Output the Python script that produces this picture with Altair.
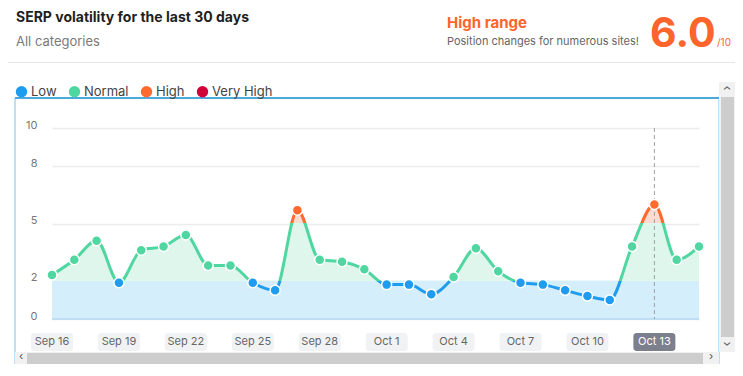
import altair as alt
import pandas as pd

# ---------------- data ----------------
dates = pd.date_range("2024-09-16", "2024-10-15").strftime("%Y-%m-%d").tolist()
values = [2.3, 3.1, 4.1, 1.9, 3.6, 3.8, 4.4, 2.8, 2.8, 1.9, 1.5, 5.7, 3.1, 3.0, 2.6,
          1.8, 1.8, 1.3, 2.2, 3.7, 2.5, 1.9, 1.8, 1.5, 1.2, 1.0, 3.8, 6.0, 3.1, 3.8]
levels = ["Low", "Normal", "High", "Very High"]
thresholds = [2, 5, 8]
y_ticks = [0, 2, 5, 8, 10]
tick_dates = dates[::3]
tick_labels = ["Sep 16", "Sep 19", "Sep 22", "Sep 25", "Sep 28",
               "Oct 1", "Oct 4", "Oct 7", "Oct 10", "Oct 13"]
highlight_label = "Oct 13"
highlight_date = "2024-10-13"
score_text = "6.0"

# ---------------- styles ----------------
FONT = "Inter"
level_colors = ["#1f9cf0", "#50d6a0", "#ff6a2f", "#d1003a"]
band_fill = "#d4eefc"
normal_fill = "#dff6ec"
high_fill = "#fcdcd0"
orange = "#ff642d"


def level_of(v):
    if v < thresholds[0]:
        return levels[0]
    if v < thresholds[1]:
        return levels[1]
    if v < thresholds[2]:
        return levels[2]
    return levels[3]


df = pd.DataFrame({"date": dates, "value": values})
df["level"] = [level_of(v) for v in values]
ticks_df = pd.DataFrame({"date": tick_dates, "label": tick_labels})
hl_df = pd.DataFrame({"date": [highlight_date]})
one = pd.DataFrame({"k": [0]})

vmax, vmin = max(values), min(values)
o5 = (vmax - thresholds[1]) / (vmax - vmin)
o2 = (vmax - thresholds[0]) / (vmax - vmin)


def hard_gradient(c_hi, c_mid, c_lo):
    return {
        "gradient": "linear", "x1": 0, "y1": 0, "x2": 0, "y2": 1,
        "stops": [
            {"offset": 0, "color": c_hi}, {"offset": o5, "color": c_hi},
            {"offset": o5, "color": c_mid}, {"offset": o2, "color": c_mid},
            {"offset": o2, "color": c_lo}, {"offset": 1, "color": c_lo},
        ],
    }


yscale = alt.Scale(domain=[0, 10], nice=False)
yaxis = alt.Axis(values=y_ticks, title=None, domain=False, ticks=False,
                 labelPadding=15, labelColor="#777", labelFontSize=11,
                 labelOffset=-3, gridColor="#ececec", gridWidth=1.5)
X = alt.X("date:T", axis=None, scale=alt.Scale(nice=False))


def txt(t, x, y, **kw):
    opts = dict(align="left", baseline="middle", font=FONT)
    opts.update(kw)
    return alt.Chart(one).mark_text(text=t, **opts).encode(
        x=alt.value(x), y=alt.value(y))


def box(x, x2, y, y2, **kw):
    return alt.Chart(one).mark_rect(**kw).encode(
        x=alt.value(x), x2=alt.value(x2), y=alt.value(y), y2=alt.value(y2))


# ---------------- decorations ----------------
header = [
    txt("SERP volatility for the last 30 days", -36, -110, fontSize=14,
        fontWeight="bold", color="#1f1f1f"),
    txt("All categories", -36, -86, fontSize=13, color="#7a7a7a"),
    txt("High range", 395, -105, fontSize=15, fontWeight="bold", color=orange),
    txt("Position changes for numerous sites!", 395, -86, fontSize=11, color="#666"),
    txt(score_text, 598, -81, fontSize=41, fontWeight="bold", color=orange,
        baseline="alphabetic"),
    txt("/10", 665, -85, fontSize=10, color=orange),
    box(-44, 683, -66, -65, fill="#e6e6e6"),
]
frame = [
    box(-37, 667, -30, 245, fillOpacity=0, stroke="#7cc2ea", strokeWidth=1),
    box(-37, 667, -31, -29, fill="#4ba9de"),
]
scrollbars = [
    box(667, 683, -46, 224, fill="#f1f1f1"),
    box(669, 682, -31, 209, fill="#cdcdcd"),
    txt("›", 675, -40, fontSize=13, color="#555", align="center", angle=270),
    txt("›", 675, 216, fontSize=13, color="#555", align="center", angle=90),
    box(-37, 667, 224, 240, fill="#f1f1f1"),
    box(-25, 651, 225, 238, fill="#cdcdcd"),
    txt("‹", -31, 229, fontSize=11, color="#555", align="center"),
    txt("›", 659, 229, fontSize=11, color="#555", align="center"),
]

# ---------------- chart layers ----------------
band = alt.Chart(df).transform_calculate(top="2", bot="0").mark_area(
    color=band_fill, opacity=1).encode(
    x=X, y=alt.Y("top:Q", scale=yscale, axis=yaxis), y2="bot")

zero_line = alt.Chart(one).transform_calculate(z="0").mark_rule(
    color="#b3d9f2", strokeWidth=1.5).encode(
    y=alt.Y("z:Q", scale=yscale, axis=yaxis))

area = alt.Chart(df).transform_calculate(two="2").mark_area(
    interpolate="monotone", fill=hard_gradient(high_fill, normal_fill, band_fill),
    opacity=1).encode(
    x=X, y=alt.Y("value:Q", scale=yscale, axis=yaxis), y2="two")

hover_rule = alt.Chart(hl_df).mark_rule(
    color="#a0a0a0", strokeDash=[4, 3], strokeWidth=1).encode(x=X)

line = alt.Chart(df).mark_line(
    interpolate="monotone", strokeWidth=3,
    stroke=hard_gradient(level_colors[2], level_colors[1], level_colors[0])).encode(
    x=X, y=alt.Y("value:Q", scale=yscale, axis=yaxis))

points = alt.Chart(df).mark_circle(size=100, opacity=1, stroke="white",
                                   strokeWidth=1.5).encode(
    x=X, y=alt.Y("value:Q", scale=yscale, axis=yaxis),
    color=alt.Color("level:N", scale=alt.Scale(domain=levels, range=level_colors),
                    legend=alt.Legend(orient="none", legendX=-37, legendY=-43,
                                      direction="horizontal", title=None,
                                      symbolType="circle", symbolSize=130,
                                      symbolStrokeWidth=0, labelFontSize=13,
                                      labelColor="#444", labelFont=FONT,
                                      columnPadding=11, labelOffset=3)))

is_hl = alt.datum.label == highlight_label
badges = alt.Chart(ticks_df).mark_rect(xOffset=-21, x2Offset=21, cornerRadius=3).encode(
    x=X, x2="date", y=alt.value(205), y2=alt.value(223),
    color=alt.condition(is_hl, alt.value("#7c808d"), alt.value("#f1f2f4")))
badge_text = alt.Chart(ticks_df).mark_text(fontSize=11, baseline="middle",
                                           font=FONT).encode(
    x=X, y=alt.value(214), text="label:N",
    color=alt.condition(is_hl, alt.value("white"), alt.value("#666")))

chart = alt.layer(
    *frame, *header, band, area, zero_line, hover_rule, line, points,
    badges, badge_text, *scrollbars
).properties(
    width=647, height=191,
    padding={"left": 44, "top": 120, "right": 36, "bottom": 45},
    autosize=alt.AutoSizeParams(type="none"),
    background="white",
).configure(font=FONT).configure_view(strokeWidth=0)

chart.save("out.html", embed_options={"renderer": "svg", "actions": False})
